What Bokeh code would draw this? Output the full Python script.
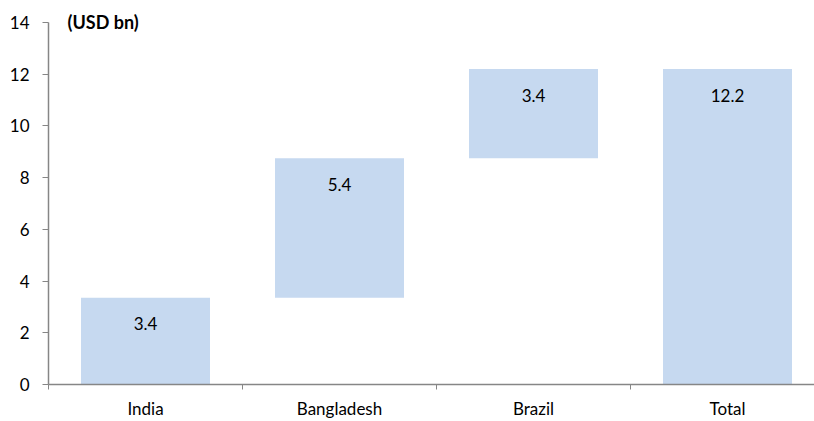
from bokeh.plotting import figure
from bokeh.models import Range1d, FixedTicker, ColumnDataSource, Label
from bokeh.core.properties import value
from bokeh.embed import file_html
from bokeh.resources import INLINE

categories = ["India", "Bangladesh", "Brazil", "Total"]
increments = [3.35, 5.4, 3.45, 12.2]
labels = ["3.4", "5.4", "3.4", "12.2"]
is_total = [False, False, False, True]
y_ticks = [0, 2, 4, 6, 8, 10, 12, 14]
unit_label = "(USD bn)"

bottoms, tops = [], []
run = 0.0
for inc, tot in zip(increments, is_total):
    if tot:
        bottoms.append(0.0)
        tops.append(inc)
    else:
        bottoms.append(run)
        run += inc
        tops.append(run)

xs = list(range(len(categories)))
src = ColumnDataSource(dict(x=xs, bottom=bottoms, top=tops, label=labels))

FONT = "Lato"
FS = "17px"
GRAY = "#868686"
TOP_BORDER = 6
BOTTOM_BORDER = 36
frame_h = 421 - TOP_BORDER - BOTTOM_BORDER
px_per_unit = (385 - 22) / 14.0
y_end = frame_h / px_per_unit

p = figure(width=814, height=421, output_backend="svg", toolbar_location=None,
           x_range=Range1d(-0.5, -0.5 + 766 / 194), y_range=Range1d(0, y_end),
           min_border_left=48, min_border_right=0, min_border_top=TOP_BORDER,
           min_border_bottom=BOTTOM_BORDER)
p.outline_line_color = None
p.xgrid.visible = False
p.ygrid.visible = False
p.background_fill_color = "white"
p.border_fill_color = "white"

p.vbar(x="x", bottom="bottom", top="top", width=0.665, source=src,
       fill_color="#C6D9F0", line_color=None)
p.text(x="x", y="top", text="label", source=src, y_offset=26,
       text_align="center", text_baseline="middle",
       text_font=value(FONT), text_font_size=FS, text_color="#000000")

p.add_layout(Label(x=-0.5 + 19 / 194, y=14, text=unit_label, text_font=FONT,
                   text_font_size="18px", text_font_style="bold",
                   text_baseline="middle", text_color="#000000"))

xa = p.xaxis[0]
xa.ticker = FixedTicker(ticks=xs, minor_ticks=[-0.5, 0.5, 1.5, 2.5])
xa.major_label_overrides = {i: c for i, c in enumerate(categories)}
xa.major_tick_line_color = None
xa.major_tick_in = 0
xa.major_tick_out = 0
xa.minor_tick_in = 0
xa.minor_tick_out = 5
xa.minor_tick_line_color = GRAY
xa.axis_line_color = GRAY
xa.axis_line_width = 1.5
xa.major_label_standoff = 8
xa.major_label_text_font = FONT
xa.major_label_text_font_size = FS
xa.major_label_text_color = "#000000"

ya = p.yaxis[0]
ya.ticker = FixedTicker(ticks=y_ticks, minor_ticks=[])
ya.bounds = (0, 14)
ya.major_tick_in = 0
ya.major_tick_out = 6
ya.major_tick_line_color = GRAY
ya.axis_line_color = GRAY
ya.axis_line_width = 1.5
ya.major_label_standoff = 13
ya.major_label_text_font = FONT
ya.major_label_text_font_size = FS
ya.major_label_text_color = "#000000"

open("out.html", "w").write(file_html(p, INLINE))
